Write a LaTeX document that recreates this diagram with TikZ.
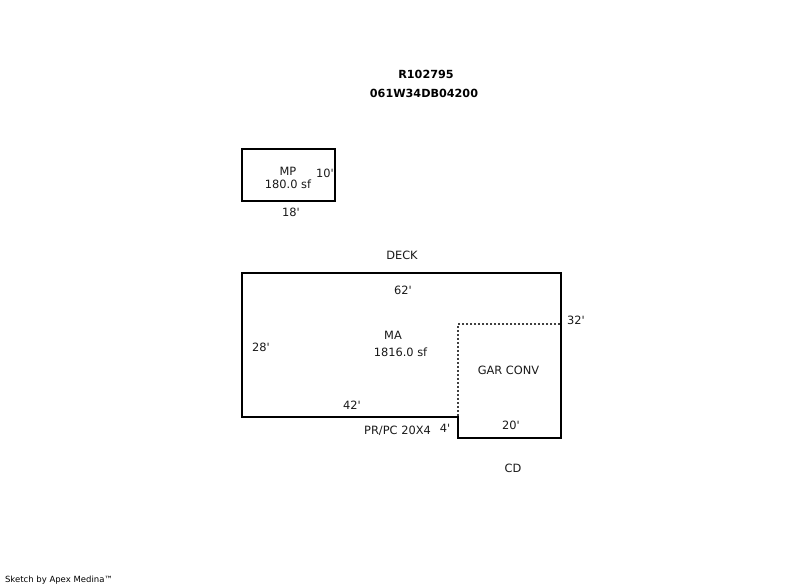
\documentclass[tikz,border=0pt]{standalone}
\usepackage{fontspec}
\setmainfont{DejaVu Sans}
\usepackage{tikz}

\begin{document}
\begin{tikzpicture}[x=1pt, y=-1pt]
\tikzstyle{wall} = [draw=black, line width=2pt, line join=miter]
\tikzstyle{partition} = [draw=black!75, line width=2pt, dash pattern=on 2pt off 2pt]
\tikzstyle{label} = [inner sep=0pt, text=black!90, font=\fontsize{11.4}{13}\selectfont]
\tikzstyle{title} = [inner sep=0pt, text=black, font=\fontsize{11.2}{13}\selectfont\bfseries]
\tikzstyle{credit} = [inner sep=0pt, text=black, font=\fontsize{8.5}{10}\selectfont]

\useasboundingbox (0,0) rectangle (800,587);

% header
\node (parcel) [title] at (426,74) {R102795};
\node (account) [title] at (424,93) {061W34DB04200};

% porch
\draw [wall] (242,149) rectangle (335,201);
\node (mp) [label] at (288,171) {MP};
\node (mparea) [label] at (288,184) {180.0 sf};
\node (mpside) [label] at (325,173) {10\textquotesingle};
\node (mpbase) [label] at (291,212) {18\textquotesingle};

% main area
\draw [wall] (242,273) -- (561,273) -- (561,438) -- (458,438) -- (458,417) -- (242,417) -- cycle;
\draw [partition] (560,324) -- (458,324) -- (458,416);

\node (deck) [label] at (402,255) {DECK};
\node (top) [label] at (403,290) {62\textquotesingle};
\node (ma) [label] at (393,335) {MA};
\node (maarea) [label] at (400.5,352) {1816.0 sf};
\node (left) [label] at (261,347) {28\textquotesingle};
\node (right) [label] at (576,320) {32\textquotesingle};
\node (gar) [label] at (508.5,370) {GAR CONV};
\node (lower) [label] at (352,405) {42\textquotesingle};
\node (porch) [label] at (397.5,431) {PR/PC 20X4};
\node (step) [label] at (445,428) {4\textquotesingle};
\node (base) [label] at (511,425) {20\textquotesingle};
\node (cd) [label] at (513,468) {CD};

\node (sketch) [credit] at (59,580) {Sketch by Apex Medina™};

\end{tikzpicture}
\end{document}
